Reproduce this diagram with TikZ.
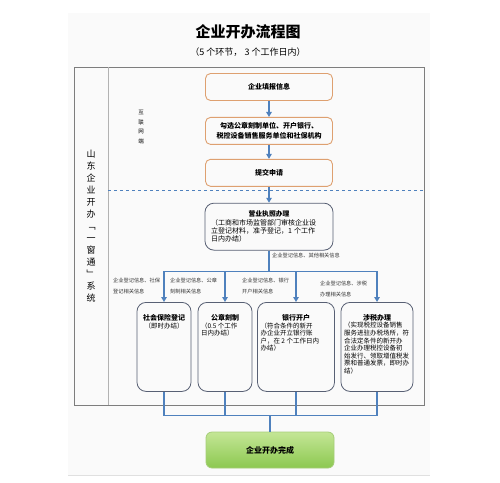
\documentclass[tikz,border=0pt]{standalone}
\usepackage{fontspec}
\setmainfont{Noto Sans CJK SC}
\usepackage{tikz}
\usetikzlibrary{arrows.meta,positioning}
\definecolor{myorange}{RGB}{222,160,112}
\definecolor{myblue}{RGB}{79,129,189}
\definecolor{myslate}{RGB}{88,96,116}
\definecolor{mygreen}{RGB}{140,200,80}
\definecolor{mylightgreen}{RGB}{196,230,150}
\definecolor{mygreenline}{RGB}{165,205,120}
\definecolor{myframe}{RGB}{125,125,125}
\definecolor{mypage}{RGB}{250,250,250}
\tikzstyle{webbox}=[draw=myorange,line width=0.9pt,rounded corners=5pt,minimum width=127pt,minimum height=27pt,align=center,font=\fontsize{7}{10}\selectfont\bfseries]
\tikzstyle{licensebox}=[draw=myslate,line width=0.8pt,rounded corners=9pt,minimum width=128pt,minimum height=47pt,text width=116pt,align=left,font=\fontsize{7}{8.3}\selectfont]
\tikzstyle{taskbox}=[draw=myslate,line width=0.8pt,rounded corners=9pt,inner xsep=3pt,inner ysep=3pt,anchor=north,font=\fontsize{6.5}{7.6}\selectfont]
\tikzstyle{donebox}=[draw=mygreenline,line width=0.8pt,rounded corners=6pt,top color=mylightgreen,bottom color=mygreen,minimum width=128pt,minimum height=36pt,font=\fontsize{8}{10}\selectfont\bfseries]
\tikzstyle{infolabel}=[inner sep=0pt,align=left,text=black!80,font=\fontsize{5.2}{11}\selectfont]
\tikzstyle{flow}=[myblue,line width=1.6pt]
\tikzstyle{flowarrow}=[flow,-{Triangle[length=5pt,width=5.5pt]}]
\newcommand{\tasktext}[3]{\parbox[t][83pt][t]{#1}{\centering\vspace*{9pt}{\fontsize{7}{8}\selectfont\bfseries #2}\par\raggedright #3}}

\begin{document}
\begin{tikzpicture}[x=1pt,y=-1pt]
\useasboundingbox (0,0) rectangle (500,482);
% page and frame
\fill[mypage] (68,13) rectangle (430,475);
\draw[black!12] (68,475) -- (430,475);
\draw[myframe,line width=0.8pt] (74,67) rectangle (424,405);
\draw[black!30] (108,67) -- (108,405);
\draw[myblue,dashed,line width=0.6pt] (108,190) -- (424,190);

\node[font=\fontsize{15}{18}\selectfont\bfseries] (title) at (248,32) {企业开办流程图};
\node[font=\fontsize{9}{11}\selectfont] (subtitle) at (248,52) {（5 个环节， 3 个工作日内）};
\node[align=center,font=\fontsize{9}{12}\selectfont] (system) at (91,226) {山\\东\\企\\业\\开\\办\\﹁\\一\\窗\\通\\﹂\\系\\统};
\node[align=center,font=\fontsize{5.5}{9.7}\selectfont] (web) at (141,127) {互\\联\\网\\端};

% online steps
\node[webbox] (report) at (269,87) {企业填报信息};
\node[webbox,below=16pt of report] (choose) {勾选公章刻制单位、开户银行、\\税控设备销售服务单位和社保机构};
\node[webbox,below=14pt of choose] (apply) {提交申请};
\node[licensebox,below=16pt of apply] (license) {{\centering\fontsize{6.8}{8.3}\selectfont\bfseries 营业执照办理\par}（工商和市场监管部门审核企业设\\立登记材料，准予登记，1 个工作\\日内办结）};

% parallel tasks
\node[taskbox] (social) at (164,302) {\tasktext{48pt}{社会保险登记}{\centering（即时办结）}};
\node[taskbox] (seal) at (225,302) {\tasktext{48pt}{公章刻制}{（0.5 个工作\\日内办结）}};
\node[taskbox] (bank) at (296,302) {\tasktext{71pt}{银行开户}{（符合条件的新开\\办企业开立银行账\\户，在 2 个工作日内\\办结）}};
\node[taskbox] (tax) at (377,302) {\tasktext{66pt}{涉税办理}{（实现税控设备销售\\服务进驻办税场所，符\\合法定条件的新开办\\企业办理税控设备初\\始发行、领取增值税发\\票和普通发票，即时办\\结）}};
\node[donebox] (done) at (270,450) {企业开办完成};

\draw[flowarrow] (report) -- (choose);
\draw[flowarrow] (choose) -- (apply);
\draw[flowarrow] (apply) -- (license);

\path (license.south) ++(0,21) coordinate (fork);
\draw[flowarrow] (license.south) |- (social.north |- fork) -- (social.north);
\draw[flowarrow] (license.south) |- (tax.north |- fork) -- (tax.north);
\draw[flowarrow] (seal.north |- fork) -- (seal.north);
\draw[flowarrow] (bank.north |- fork) -- (bank.north);

\path (done.north) ++(0,-16) coordinate (join);
\draw[flow] (social.south) |- (join) -- (done.north);
\draw[flow] (tax.south) |- (join);
\draw[flow] (seal.south) -- (seal.south |- join);
\draw[flow] (bank.south) -- (bank.south |- join);

% data passed on
\node[infolabel,anchor=west] (otherinfo) at (272,256) {企业登记信息、其他相关信息};
\node[infolabel,anchor=north west] (socialinfo) at (113,278) {企业登记信息、社保\\登记相关信息};
\node[infolabel,anchor=north west] (sealinfo) at (170,278) {企业登记信息、公章\\刻制相关信息};
\node[infolabel,anchor=north west] (bankinfo) at (242,278) {企业登记信息、银行\\开户相关信息};
\node[infolabel,anchor=north west] (taxinfo) at (320,281) {企业登记信息、涉税\\办理相关信息};
\end{tikzpicture}
\end{document}
